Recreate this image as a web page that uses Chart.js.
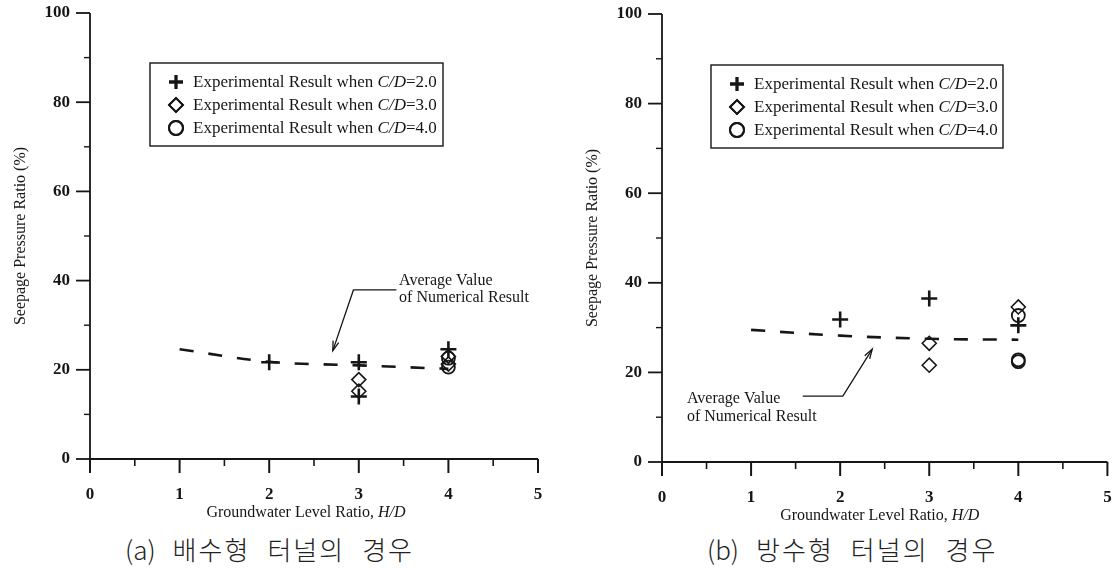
<!DOCTYPE html>
<html>
<head>
<meta charset="utf-8">
<script src="https://cdn.jsdelivr.net/npm/chart.js@4"></script>
<style>
    body { margin: 0; background: #fff; }
    .wrap { position: relative; width: 1118px; height: 571px; overflow: hidden; }
    canvas { position: absolute; top: 0; }
    #chartA { left: 0; }
    #chartB { left: 559px; }
    .caption {
        position: absolute; top: 530px;
        font-family: 'Noto Sans CJK KR', sans-serif; font-weight: 300;
        font-size: 26px; color: #222; white-space: nowrap;
    }
    .caption .ko { letter-spacing: 2px; margin-left: 17px; }
</style>
</head>
<body>
<div class="wrap">
    <canvas id="chartA" width="559" height="530"></canvas>
    <canvas id="chartB" width="559" height="530"></canvas>
    <div class="caption" style="left:125px">(a)<span class="ko">배수형</span><span class="ko">터널의</span><span class="ko">경우</span></div>
    <div class="caption" style="left:707px">(b)<span class="ko">방수형</span><span class="ko">터널의</span><span class="ko">경우</span></div>
</div>

<script>
    // ---- data ----
    const avgX = [1, 2, 3, 4];

    // (a) drained tunnel
    const avgA = [24.6, 21.8, 21.0, 20.2];
    const plusAX = [2, 3, 3, 4];
    const plusAY = [21.7, 21.7, 14.0, 24.6];
    const diamAX = [3, 3, 4, 4];
    const diamAY = [17.8, 15.2, 23.0, 21.3];
    const circAX = [4, 4];
    const circAY = [22.6, 20.6];

    // (b) waterproof tunnel
    const avgB = [29.5, 28.2, 27.5, 27.3];
    const plusBX = [2, 3, 4];
    const plusBY = [31.8, 36.5, 30.5];
    const diamBX = [3, 3, 4];
    const diamBY = [26.5, 21.6, 34.6];
    const circBX = [4, 4, 4];
    const circBY = [32.7, 22.4, 22.8];

    const legendCD = ['2.0', '3.0', '4.0'];
    const xTitle = 'Groundwater Level Ratio, ';
    const xTitleItalic = 'H/D';
    const yTitle = 'Seepage Pressure Ratio (%)';
    const noteLines = ['Average Value', 'of Numerical Result'];

    const ink = '#161616';
    const serif = "'Liberation Serif', 'DejaVu Serif', serif";

    const toPoints = (xs, ys) => xs.map((x, i) => ({x: x, y: ys[i]}));

    const markerStyles = [
        {pointStyle: 'cross', radius: 8, width: 2.6},
        {pointStyle: 'rectRot', radius: 7, width: 1.6},
        {pointStyle: 'circle', radius: 6.5, width: 1.8}
    ];

    const makePaper = (lay) => ({
        id: 'paper',
        afterDraw(chart) {
            const ctx = chart.ctx;
            const xs = chart.scales.x, ys = chart.scales.y;
            const ca = chart.chartArea;
            ctx.save();
            ctx.strokeStyle = ink;
            ctx.fillStyle = ink;
            ctx.lineCap = 'butt';

            // axes
            ctx.lineWidth = 1.8;
            ctx.beginPath();
            ctx.moveTo(ca.left, ca.top);
            ctx.lineTo(ca.left, ca.bottom);
            ctx.lineTo(ca.right, ca.bottom);
            ctx.stroke();

            // y ticks, outward
            for (let v = 0; v <= 100; v += 10) {
                const py = ys.getPixelForValue(v);
                const len = v % 20 === 0 ? 14 : 6;
                ctx.lineWidth = v % 20 === 0 ? 1.8 : 1.4;
                ctx.beginPath();
                ctx.moveTo(ca.left, py);
                ctx.lineTo(ca.left - len, py);
                ctx.stroke();
            }
            // x ticks, outward
            for (let v = 0; v <= 5; v += 0.5) {
                const px = xs.getPixelForValue(v);
                const major = Number.isInteger(v);
                ctx.lineWidth = major ? 2 : 1.6;
                ctx.beginPath();
                ctx.moveTo(px, ca.bottom);
                ctx.lineTo(px, ca.bottom + (major ? 14 : 7));
                ctx.stroke();
            }

            // y title
            ctx.save();
            ctx.translate(ca.left - 69, (ca.top + ca.bottom) / 2);
            ctx.rotate(-Math.PI / 2);
            ctx.font = '16px ' + serif;
            ctx.textAlign = 'center';
            ctx.textBaseline = 'middle';
            ctx.fillText(yTitle, 0, 0);
            ctx.restore();

            // x title with italic H/D
            ctx.font = '16px ' + serif;
            const w1 = ctx.measureText(xTitle).width;
            ctx.font = 'italic 16px ' + serif;
            const w2 = ctx.measureText(xTitleItalic).width;
            const tx = (ca.left + ca.right) / 2 + lay.xTitleDX - (w1 + w2) / 2;
            const ty = ca.bottom + 54;
            ctx.textAlign = 'left';
            ctx.textBaseline = 'middle';
            ctx.font = '16px ' + serif;
            ctx.fillText(xTitle, tx, ty);
            ctx.font = 'italic 16px ' + serif;
            ctx.fillText(xTitleItalic, tx + w1, ty);

            // legend box
            const bx = ca.left + lay.legendDX, by = ca.top + lay.legendDY;
            ctx.lineWidth = 1.4;
            ctx.strokeRect(bx, by, lay.legendW, 83);
            const rowY = [19, 42, 65];
            legendCD.forEach((cd, i) => {
                const st = markerStyles[i];
                const cy = by + rowY[i];
                ctx.fillStyle = '#fff';
                ctx.lineWidth = st.width + 0.2;
                Chart.helpers.drawPoint(ctx, {pointStyle: st.pointStyle, radius: 7, rotation: 0, borderWidth: st.width + 0.2}, bx + 26, cy);
                ctx.stroke();
                ctx.fillStyle = ink;
                let lx = bx + 43;
                const parts = [['Experimental Result when ', ''], ['C/D', 'italic '], ['=' + cd, '']];
                ctx.textBaseline = 'middle';
                parts.forEach(p => {
                    ctx.font = p[1] + '17px ' + serif;
                    ctx.fillText(p[0], lx, cy + 1);
                    lx += ctx.measureText(p[0]).width;
                });
            });

            // annotation with leader arrow
            const n = lay.note;
            ctx.font = '16px ' + serif;
            ctx.textAlign = 'left';
            ctx.textBaseline = 'middle';
            ctx.fillText(noteLines[0], xs.getPixelForValue(n.textX), ys.getPixelForValue(n.line1Y));
            ctx.fillText(noteLines[1], xs.getPixelForValue(n.textX), ys.getPixelForValue(n.line2Y));
            const pts = n.path.map(p => [xs.getPixelForValue(p[0]), ys.getPixelForValue(p[1])]);
            ctx.lineWidth = 1.3;
            ctx.beginPath();
            ctx.moveTo(pts[0][0], pts[0][1]);
            ctx.lineTo(pts[1][0], pts[1][1]);
            ctx.lineTo(pts[2][0], pts[2][1]);
            ctx.stroke();
            const p1 = pts[1], p2 = pts[2];
            const ang = Math.atan2(p2[1] - p1[1], p2[0] - p1[0]);
            ctx.beginPath();
            ctx.moveTo(p2[0] - 10 * Math.cos(ang - 0.3), p2[1] - 10 * Math.sin(ang - 0.3));
            ctx.lineTo(p2[0], p2[1]);
            ctx.lineTo(p2[0] - 10 * Math.cos(ang + 0.3), p2[1] - 10 * Math.sin(ang + 0.3));
            ctx.stroke();

            ctx.restore();
        }
    });

    const makeChart = (id, avg, plus, diam, circ, lay) => {
        const sets = [plus, diam, circ].map((pts, i) => ({
            data: pts,
            pointStyle: markerStyles[i].pointStyle,
            pointRadius: markerStyles[i].radius,
            pointBorderWidth: markerStyles[i].width,
            pointBorderColor: ink,
            pointBackgroundColor: 'rgba(0,0,0,0)',
            showLine: false
        }));
        sets.push({
            data: toPoints(avgX, avg),
            showLine: true,
            borderColor: ink,
            borderWidth: 2.6,
            borderDash: [14, 15],
            tension: 0.35,
            pointRadius: 0
        });
        const tickFont = {family: serif, size: 17, weight: 'bold'};
        // tick marks are drawn by the plugin; the invisible tickLength only spaces the labels
        return new Chart(document.getElementById(id), {
            type: 'scatter',
            data: {datasets: sets},
            options: {
                responsive: false,
                animation: false,
                layout: {padding: {left: 0, top: lay.top, right: lay.right, bottom: 0}},
                plugins: {legend: {display: false}, tooltip: {enabled: false}},
                scales: {
                    x: {
                        type: 'linear', min: 0, max: 5,
                        ticks: {stepSize: 1, padding: 0, color: ink, font: tickFont},
                        grid: {display: false, drawTicks: true, tickLength: 25},
                        border: {display: false},
                        afterFit: (s) => { s.height = lay.xAxisH; }
                    },
                    y: {
                        type: 'linear', min: 0, max: 100,
                        ticks: {stepSize: 20, padding: 0, color: ink, font: tickFont},
                        grid: {display: false, drawTicks: true, tickLength: 20},
                        border: {display: false},
                        afterFit: (s) => { s.width = lay.yAxisW; }
                    }
                }
            },
            plugins: [makePaper(lay)]
        });
    };

    makeChart('chartA', avgA,
        toPoints(plusAX, plusAY), toPoints(diamAX, diamAY), toPoints(circAX, circAY),
        {
            top: 13, right: 21, yAxisW: 90, xAxisH: 71, xTitleDX: -8,
            legendDX: 60, legendDY: 50, legendW: 293,
            note: {textX: 3.45, line1Y: 39.9, line2Y: 36.1,
                   path: [[3.42, 37.9], [2.94, 37.9], [2.71, 24.3]]}
        });

    makeChart('chartB', avgB,
        toPoints(plusBX, plusBY), toPoints(diamBX, diamBY), toPoints(circBX, circBY),
        {
            top: 14, right: 10, yAxisW: 103, xAxisH: 68, xTitleDX: -5,
            legendDX: 49, legendDY: 51, legendW: 292,
            note: {textX: 0.28, line1Y: 14.2, line2Y: 10.1,
                   path: [[1.58, 14.7], [2.03, 14.7], [2.36, 25.2]]}
        });
</script>
</body>
</html>
